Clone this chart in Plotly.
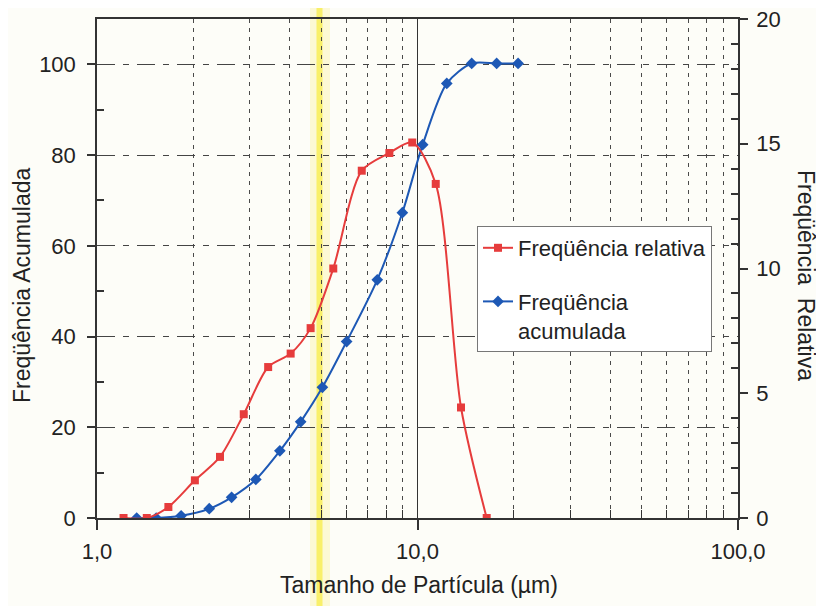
import plotly.graph_objects as go

# ---- data ----
rel_x = [1.21, 1.43, 1.67, 2.02, 2.42, 2.87, 3.42, 4.02, 4.64, 5.46, 6.70, 8.17, 9.63, 11.4, 13.67, 16.44]
rel_y = [0, 0, 0.44, 1.51, 2.45, 4.16, 6.05, 6.59, 7.61, 10.0, 13.92, 14.63, 15.05, 13.39, 4.43, 0]

acc_x = [1.33, 1.53, 1.83, 2.24, 2.63, 3.13, 3.72, 4.32, 5.05, 6.01, 7.49, 8.97, 10.38, 12.34, 14.76, 17.66, 20.6]
acc_y = [0, 0, 0.5, 2.05, 4.56, 8.5, 14.8, 21.2, 28.8, 38.9, 52.5, 67.3, 82.3, 95.8, 100.2, 100.2, 100.2]

x_tickvals = [1, 10, 100]
x_ticktext = ["1,0", "10,0", "100,0"]
x_minor = [2, 3, 4, 5, 6, 7, 8, 9, 20, 30, 40, 50, 60, 70, 80, 90]
left_ticks = [0, 20, 40, 60, 80, 100]
right_ticks = [0, 5, 10, 15, 20]

RED = "#e63c3c"
BLUE = "#1d58b5"
FONT = "Liberation Sans, Arial, sans-serif"
TXT = "#222222"
AX = "#333333"

fig = go.Figure()
fig.add_trace(go.Scatter(
    x=rel_x, y=rel_y, yaxis="y2", name="Freqüência relativa",
    mode="lines+markers", line=dict(color=RED, width=2, shape="spline", smoothing=0.8),
    marker=dict(symbol="square", size=8, color=RED),
    legendgroup="a"))
fig.add_trace(go.Scatter(
    x=acc_x, y=acc_y, yaxis="y", name="Freqüência<br>acumulada",
    mode="lines+markers", line=dict(color=BLUE, width=2, shape="spline", smoothing=0.8),
    marker=dict(symbol="diamond", size=9, color=BLUE),
    legendgroup="b"))

# page pixels -> paper coordinates (plot area spans x 97..738, y 19..518 on the page)
def px2paper(px):
    return (px - 97) / 641.0

def py2paper(py):
    return (518 - py) / 499.0

# scan artifact: yellow vertical streak
fig.add_shape(type="rect", xref="paper", yref="paper",
              x0=px2paper(310), x1=px2paper(330), y0=-0.18, y1=1.04,
              fillcolor="rgba(250,240,150,0.35)", line_width=0, layer="below")
fig.add_shape(type="rect", xref="paper", yref="paper",
              x0=px2paper(316.5), x1=px2paper(322.5), y0=-0.18, y1=1.04,
              fillcolor="rgba(248,236,70,0.75)", line_width=0, layer="below")

fig.update_layout(
    width=816, height=598,
    margin=dict(l=89, r=86, t=11, b=88, autoexpand=False),
    paper_bgcolor="#fdfdf8", plot_bgcolor="#fdfdf8",
    font=dict(family=FONT, size=22, color=TXT),
    showlegend=True,
    legend=dict(x=px2paper(477), y=py2paper(226), xanchor="left", yanchor="top",
                bgcolor="#ffffff", bordercolor="#777777", borderwidth=1,
                font=dict(family=FONT, size=22, color=TXT),
                traceorder="grouped", tracegroupgap=22, valign="top"),
    xaxis=dict(type="log", range=[0, 2], automargin=False,
               tickmode="array", tickvals=x_tickvals, ticktext=x_ticktext,
               ticks="outside", ticklen=10, tickwidth=1.5, tickcolor=AX,
               ticklabelstandoff=3,
               showline=True, linecolor=AX, linewidth=1.5, mirror=True,
               showgrid=True, gridcolor="#333333", gridwidth=1.2, griddash="solid",
               zeroline=False,
               minor=dict(tickmode="array", tickvals=x_minor, ticks="inside", ticklen=8,
                          tickcolor=AX, tickwidth=1, showgrid=True,
                          gridcolor="#4a4a4a", gridwidth=1, griddash="4px,5px")),
    yaxis=dict(range=[0, 110], tickmode="array", tickvals=left_ticks, automargin=False,
               ticks="outside", ticklen=8, tickwidth=1.5, tickcolor=AX,
               ticklabelstandoff=7, ticklabeloverflow="allow",
               showline=True, linecolor=AX, linewidth=1.5,
               showgrid=True, gridcolor="#444444", gridwidth=1, griddash="18px,8px,6px,8px",
               zeroline=False,
               minor=dict(tickmode="array", tickvals=[10, 30, 50, 70, 90], ticks="inside",
                          ticklen=7, tickcolor=AX, tickwidth=1.5, showgrid=False)),
    yaxis2=dict(range=[0, 20], overlaying="y", side="right", automargin=False,
                tickmode="array", tickvals=right_ticks,
                ticks="outside", ticklen=8, tickwidth=1.5, tickcolor=AX,
                ticklabelstandoff=4, ticklabeloverflow="allow",
                showline=True, linecolor=AX, linewidth=1.5,
                showgrid=False, zeroline=False,
                minor=dict(tickmode="array", tickvals=[1, 2, 3, 4, 6, 7, 8, 9, 11, 12, 13, 14, 16, 17, 18, 19],
                           ticks="inside", ticklen=7, tickcolor=AX, tickwidth=1.5, showgrid=False)),
    annotations=[
        dict(text="Freqüência Acumulada", xref="paper", yref="paper",
             x=px2paper(22), y=py2paper(286), textangle=-90, showarrow=False,
             xanchor="center", yanchor="middle", font=dict(family=FONT, size=23, color=TXT)),
        dict(text="Freqüência  Relativa", xref="paper", yref="paper",
             x=px2paper(806), y=py2paper(275), textangle=90, showarrow=False,
             xanchor="center", yanchor="middle", font=dict(family=FONT, size=23, color=TXT)),
        dict(text="Tamanho de Partícula (µm)", xref="paper", yref="paper",
             x=px2paper(419), y=py2paper(585), showarrow=False,
             xanchor="center", yanchor="middle", font=dict(family=FONT, size=23, color=TXT)),
    ],
)

fig.write_html("out.html")
